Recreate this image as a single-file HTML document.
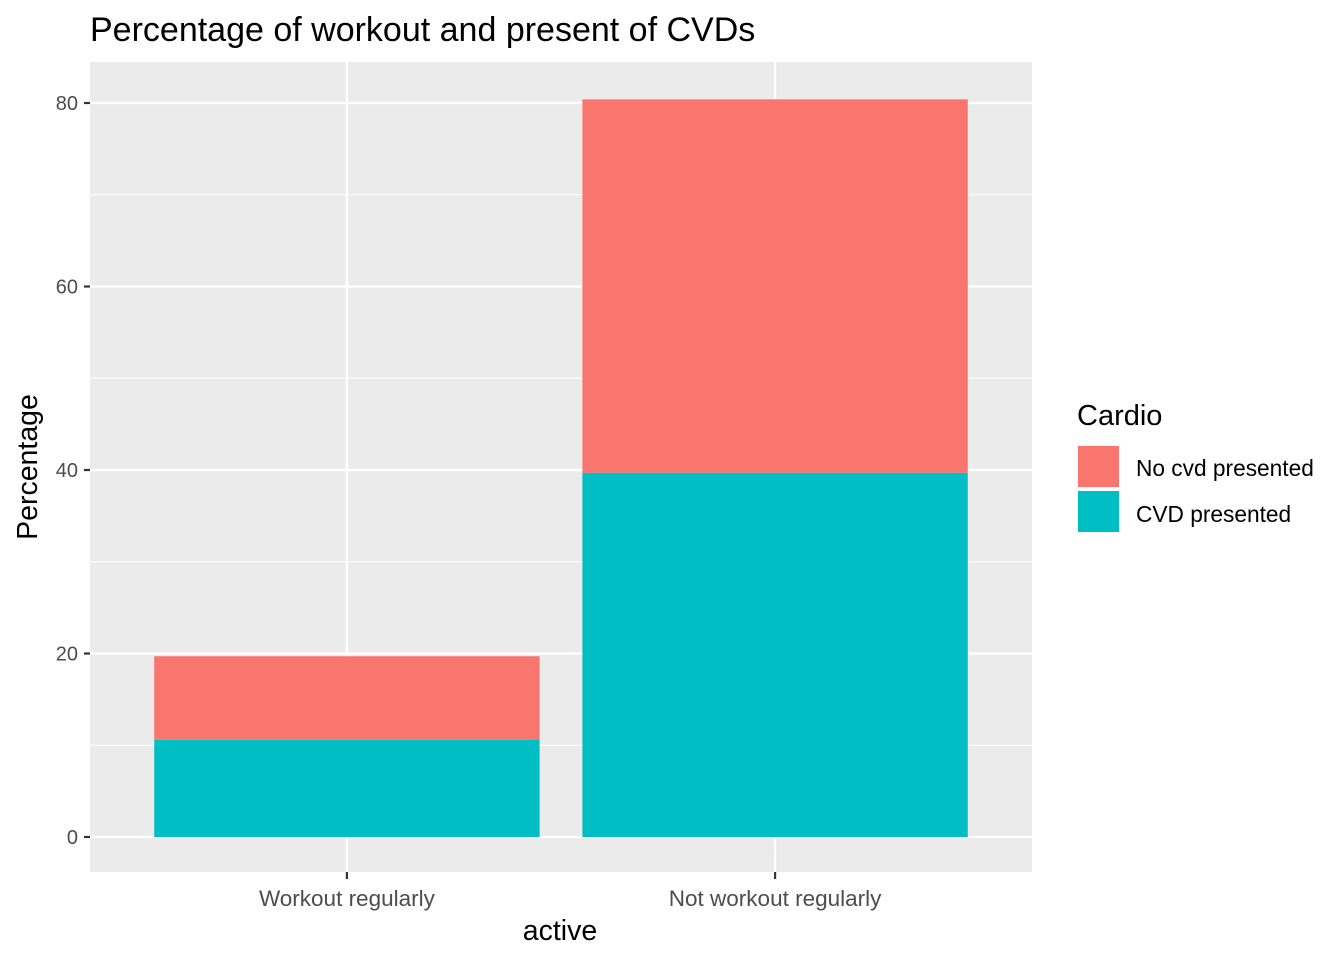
<!DOCTYPE html>
<html><head><meta charset="utf-8"><style>
body{margin:0;background:#fff;width:1344px;height:960px;overflow:hidden}
svg text{font-family:"Liberation Sans",Arial,sans-serif}
</style></head><body>
<svg id="chart" width="1344" height="960" xmlns="http://www.w3.org/2000/svg">
<rect x="0" y="0" width="1344" height="960" fill="#fff"/>
<text x="90" y="41" font-size="34" fill="#000">Percentage of workout and present of CVDs</text>
<rect x="90" y="62" width="942" height="810" fill="#ebebeb"/>
<g id="grid"></g>
<g id="bars"></g>
<g id="axes"></g>
<text x="560" y="940" font-size="28.5" text-anchor="middle" fill="#000">active</text>
<text transform="translate(37,467) rotate(-90)" font-size="28.5" text-anchor="middle" fill="#000">Percentage</text>
<g>
<text x="1077" y="425" font-size="29" fill="#000">Cardio</text>
<rect x="1077" y="445" width="43" height="43" fill="#F8766D" stroke="#fff" stroke-width="2"/>
<rect x="1077" y="490" width="43" height="43" fill="#00BFC4" stroke="#fff" stroke-width="2"/>
<text x="1136" y="476" font-size="22.7" fill="#000">No cvd presented</text>
<text x="1136" y="522" font-size="22.7" fill="#000">CVD presented</text>
</g>
</svg>
<script>
const categories = ["Workout regularly", "Not workout regularly"];
const cvdValues = [10.6, 39.7];
const noCvdValues = [9.1, 40.7];
const yTicks = [0, 20, 40, 60, 80];
const yMinor = [10, 30, 50, 70];

const NS = "http://www.w3.org/2000/svg";
const panel = {x0: 90, x1: 1032, y0: 62, y1: 872};
function y(v){ return 837 - v * (837 - 103) / 80; }
const band = (panel.x1 - panel.x0) / (categories.length + 0.2);
function xc(i){ return panel.x0 + band * 0.6 + band * i; }
function mk(tag, attrs, parent){ const e = document.createElementNS(NS, tag); for (const k in attrs) e.setAttribute(k, attrs[k]); parent.appendChild(e); return e; }
const grid = document.getElementById('grid'), bars = document.getElementById('bars'), axes = document.getElementById('axes');
yMinor.forEach(v => {
  const l = mk('line', {x1: panel.x0, x2: panel.x1, y1: y(v), y2: y(v), stroke: '#fff', 'stroke-width': 1.1}, grid);
  
  
});
yTicks.forEach(v => {
  const l = mk('line', {x1: panel.x0, x2: panel.x1, y1: y(v), y2: y(v), stroke: '#fff', 'stroke-width': 2.2}, grid);
  
  
  const t = mk('line', {x1: panel.x0 - 6, x2: panel.x0, y1: y(v), y2: y(v), stroke: '#333', 'stroke-width': 2.2}, axes);
  
  
  const tx = mk('text', {x: panel.x0 - 12, y: y(v) + 7, 'font-size': 20, fill: '#4d4d4d', 'text-anchor': 'end'}, axes);
  tx.textContent = v;
  
  
});
categories.forEach((c, i) => {
  const cx = xc(i);
  const g = mk('line', {x1: cx, x2: cx, y1: panel.y0, y2: panel.y1, stroke: '#fff', 'stroke-width': 2.2}, grid);
  
  
  const w = band * 0.9;
  const b1 = mk('rect', {x: cx - w/2, y: y(cvdValues[i]), width: w, height: y(0) - y(cvdValues[i]), fill: '#00BFC4'}, bars);
  
  
  const tot = cvdValues[i] + noCvdValues[i];
  const b2 = mk('rect', {x: cx - w/2, y: y(tot), width: w, height: y(cvdValues[i]) - y(tot), fill: '#F8766D'}, bars);
  
  
  const t = mk('line', {x1: cx, x2: cx, y1: panel.y1, y2: panel.y1 + 7, stroke: '#333', 'stroke-width': 2.2}, axes);
  
  
  const tx = mk('text', {x: cx, y: 906, 'font-size': 22.5, fill: '#4d4d4d', 'text-anchor': 'middle'}, axes);
  tx.textContent = c;
  
  
});
</script>
</body></html>
